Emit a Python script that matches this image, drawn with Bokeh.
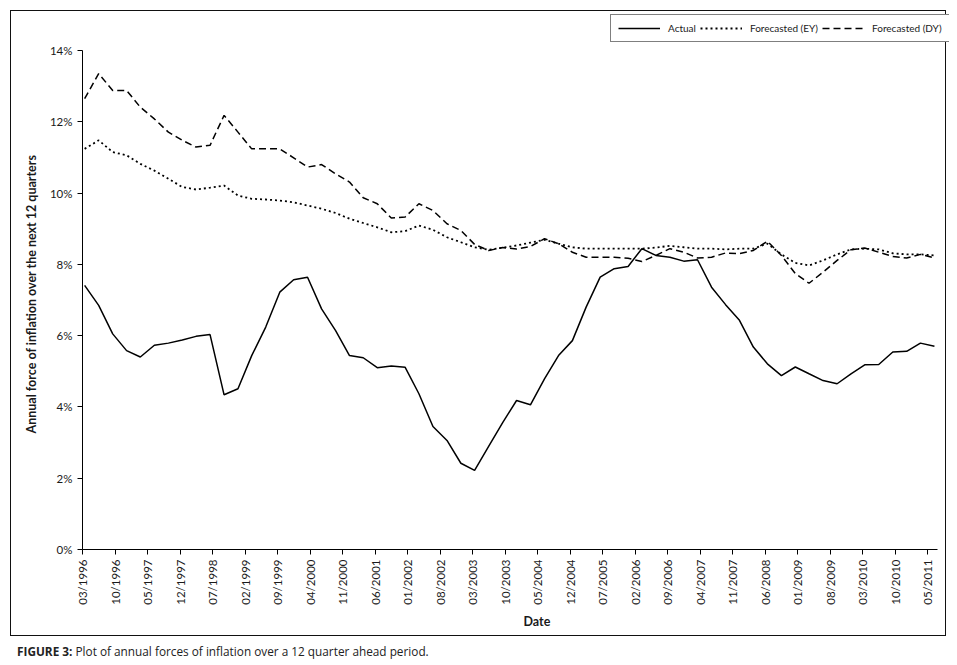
import datetime as dt
from math import pi
import pandas as pd
from bokeh.plotting import figure
from bokeh.models import (FixedTicker, Legend, LegendItem, Div, Title,
                          Range1d, DatetimeTickFormatter)
from bokeh.layouts import column
from bokeh.embed import file_html
from bokeh.resources import INLINE

# ---------------- data ----------------
tick_labels = ["03/1996", "10/1996", "05/1997", "12/1997", "07/1998", "02/1999",
               "09/1999", "04/2000", "11/2000", "06/2001", "01/2002", "08/2002",
               "03/2003", "10/2003", "05/2004", "12/2004", "07/2005", "02/2006",
               "09/2006", "04/2007", "11/2007", "06/2008", "01/2009", "08/2009",
               "03/2010", "10/2010", "05/2011"]

y_ticks = [0, 2, 4, 6, 8, 10, 12, 14]
y_tick_labels = ["0%", "2%", "4%", "6%", "8%", "10%", "12%", "14%"]

# quarterly observations, 03/1996 .. 06/2011
dates = list(pd.date_range("1996-03-01", periods=62, freq="3MS") + pd.Timedelta(days=14))

actual = [7.41, 6.85, 6.05, 5.58, 5.40, 5.73, 5.79, 5.88, 5.98, 6.03,
          4.34, 4.51, 5.44, 6.24, 7.22, 7.57, 7.64, 6.75, 6.14, 5.44,
          5.38, 5.10, 5.15, 5.11, 4.37, 3.45, 3.06, 2.42, 2.22, 2.89,
          3.56, 4.18, 4.06, 4.79, 5.44, 5.86, 6.80, 7.64, 7.88, 7.94,
          8.44, 8.25, 8.20, 8.09, 8.13, 7.36, 6.87, 6.43, 5.68, 5.21,
          4.88, 5.12, 4.93, 4.74, 4.65, 4.93, 5.18, 5.19, 5.54, 5.56,
          5.79, 5.70]

forecast_ey = [11.24, 11.48, 11.15, 11.06, 10.82, 10.63, 10.40, 10.17, 10.10, 10.15,
               10.21, 9.93, 9.84, 9.82, 9.79, 9.74, 9.65, 9.56, 9.44, 9.28,
               9.16, 9.04, 8.90, 8.93, 9.09, 8.97, 8.76, 8.62, 8.48, 8.41,
               8.47, 8.53, 8.61, 8.69, 8.58, 8.48, 8.44, 8.44, 8.44, 8.44,
               8.44, 8.47, 8.52, 8.48, 8.44, 8.44, 8.42, 8.44, 8.44, 8.58,
               8.28, 8.04, 7.97, 8.11, 8.28, 8.42, 8.44, 8.42, 8.31, 8.28,
               8.28, 8.25]

forecast_dy = [12.65, 13.35, 12.88, 12.88, 12.41, 12.08, 11.71, 11.48, 11.29, 11.34,
               12.18, 11.71, 11.24, 11.24, 11.24, 10.99, 10.73, 10.80, 10.54, 10.31,
               9.87, 9.70, 9.30, 9.33, 9.70, 9.51, 9.14, 8.95, 8.56, 8.39,
               8.47, 8.43, 8.50, 8.72, 8.58, 8.34, 8.20, 8.20, 8.20, 8.17,
               8.08, 8.25, 8.44, 8.34, 8.18, 8.20, 8.32, 8.30, 8.39, 8.65,
               8.25, 7.74, 7.47, 7.78, 8.11, 8.41, 8.46, 8.34, 8.22, 8.18,
               8.28, 8.18]

series_names = ["Actual", "Forecasted (EY)", "Forecasted (DY)"]

# ---------------- figure ----------------
FONT = "Lato"
x_ticks = [dt.datetime.strptime(s, "%m/%Y").replace(tzinfo=dt.timezone.utc).timestamp() * 1000
           for s in tick_labels]

x_start = dt.datetime(1996, 3, 1)
axis_end = dt.datetime(2011, 7, 5)
# the frame reaches a little past the drawn axes so that the legend is not clipped
x_end = x_start + (axis_end - x_start) * (867 / 855)
y_top = 14 * 537 / 499

p = figure(width=956, height=646, x_axis_type="datetime", title=None,
           x_range=Range1d(x_start, x_end),
           y_range=Range1d(0, y_top),
           output_backend="svg", toolbar_location=None,
           min_border_left=82, min_border_right=7, min_border_top=12, min_border_bottom=97,
           background_fill_color=None, border_fill_color=None)
p.outline_line_color = None
p.xgrid.visible = False
p.ygrid.visible = False
p.styles = {"outline": "1px solid #111111", "outline-offset": "-11px"}

r_act = p.line(dates, actual, line_color="black", line_width=1.5)
r_ey = p.line(dates, forecast_ey, line_color="black", line_width=1.8, line_dash="2 3")
r_dy = p.line(dates, forecast_dy, line_color="black", line_width=1.5, line_dash="7 4")

# y axis
ya = p.yaxis[0]
ya.ticker = FixedTicker(ticks=y_ticks)
ya.bounds = (0, 14)
ya.major_label_overrides = {t: l for t, l in zip(y_ticks, y_tick_labels)}
# x axis
xa = p.xaxis[0]
xa.ticker = FixedTicker(ticks=x_ticks)
xa.bounds = (x_start, axis_end)
fmt = "%m/%Y"
xa.formatter = DatetimeTickFormatter(microseconds=fmt, milliseconds=fmt, seconds=fmt,
                                     minsec=fmt, minutes=fmt, hourmin=fmt, hours=fmt,
                                     days=fmt, months=fmt, years=fmt)
xa.major_label_orientation = pi / 2

for ax in (xa, ya):
    ax.axis_line_color = "black"
    ax.axis_line_width = 1
    ax.major_tick_line_color = "black"
    ax.major_tick_out = 5
    ax.major_tick_in = 0
    ax.minor_tick_line_color = None
    ax.major_label_text_font = FONT
    ax.major_label_text_font_size = "11.5px"
    ax.major_label_text_color = "#1a1a1a"
    ax.major_label_standoff = 5

# axis titles (side titles, so they can sit where the original puts them)
y_title = Title(text="Annual force of inflation over the next 12 quarters",
                align="left", offset=116, standoff=16,
                text_font=FONT, text_font_size="12.5px", text_font_style="bold",
                text_color="#1a1a1a")
p.add_layout(y_title, "left")
x_title = Title(text="Date", align="left", offset=441, standoff=8,
                text_font=FONT, text_font_size="12.5px", text_font_style="bold",
                text_color="#1a1a1a")
p.add_layout(x_title, "below")

legend = Legend(items=[LegendItem(label=series_names[0], renderers=[r_act]),
                       LegendItem(label=series_names[1], renderers=[r_ey]),
                       LegendItem(label=series_names[2], renderers=[r_dy])],
                orientation="horizontal", location=(528, 507),
                border_line_color="black", border_line_width=1,
                background_fill_color="white", background_fill_alpha=1,
                padding=7, spacing=4, label_standoff=8, margin=0,
                glyph_width=42, glyph_height=12,
                label_text_font=FONT, label_text_font_size="10px",
                label_text_color="#1a1a1a")
p.add_layout(legend)

caption = Div(text="<b>FIGURE 3:</b> Plot of annual forces of inflation over a 12 quarter ahead period.",
              width=956, height=16,
              styles={"font-family": "Open Sans", "font-size": "11.8px", "color": "#222222",
                      "line-height": "13px", "padding-left": "12px",
                      "position": "relative", "top": "-6px"})

layout = column(p, caption)
open("out.html", "w").write(file_html(layout, INLINE))
